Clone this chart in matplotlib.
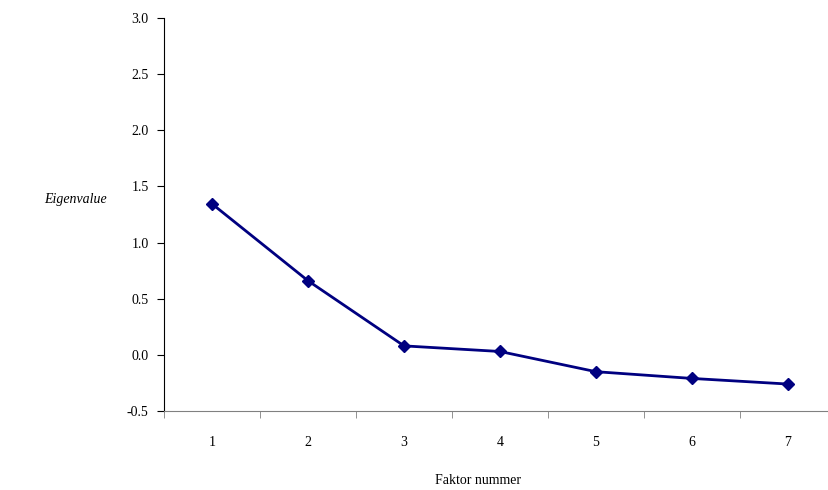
import matplotlib
matplotlib.use("Agg")
import matplotlib.pyplot as plt
import numpy as np

factors = ["1", "2", "3", "4", "5", "6", "7"]
eigenvalues = [1.345, 0.66, 0.08, 0.03, -0.15, -0.21, -0.26]
yticks = [-0.5, 0.0, 0.5, 1.0, 1.5, 2.0, 2.5, 3.0]

plt.rcParams['font.family'] = ['Liberation Serif', 'DejaVu Serif']
W, H = 829, 490
fig = plt.figure(figsize=(W/100, H/100), dpi=100)
left, right, top, bottom = 164, 836, 18, 411
ax = fig.add_axes([left/W, 1 - bottom/H, (right-left)/W, (bottom-top)/H])

x = np.arange(len(factors))
ax.plot(x, eigenvalues, color='#000080', lw=2, marker='D', ms=6, mfc='#000080', mec='#000080')
ax.set_xlim(-0.5, len(factors) - 0.5)
ax.set_ylim(-0.5, 3.0)
ax.set_yticks(yticks)
ax.set_yticklabels([f"{v:.1f}" for v in yticks], fontsize=10)
ax.set_xticks(x)
ax.set_xticklabels(factors, fontsize=10)
ax.set_xticks(np.arange(len(factors) + 1) - 0.5, minor=True)
ax.tick_params(axis='x', which='major', length=0, pad=18)
ax.tick_params(axis='x', which='minor', length=5, color='#808080', direction='out')
ax.tick_params(axis='y', length=5, direction='out', pad=6)
for s in ['top', 'right']:
    ax.spines[s].set_visible(False)
ax.spines['bottom'].set_color('#808080')
ax.spines['left'].set_color('black')

fig.text(75/W, 1 - 199/H, "Eigenvalue", style='italic', fontsize=10, ha='center', va='center')
fig.text(478/W, 1 - 480/H, "Faktor nummer", fontsize=10, ha='center', va='center')

fig.savefig("out.png", dpi=100)
